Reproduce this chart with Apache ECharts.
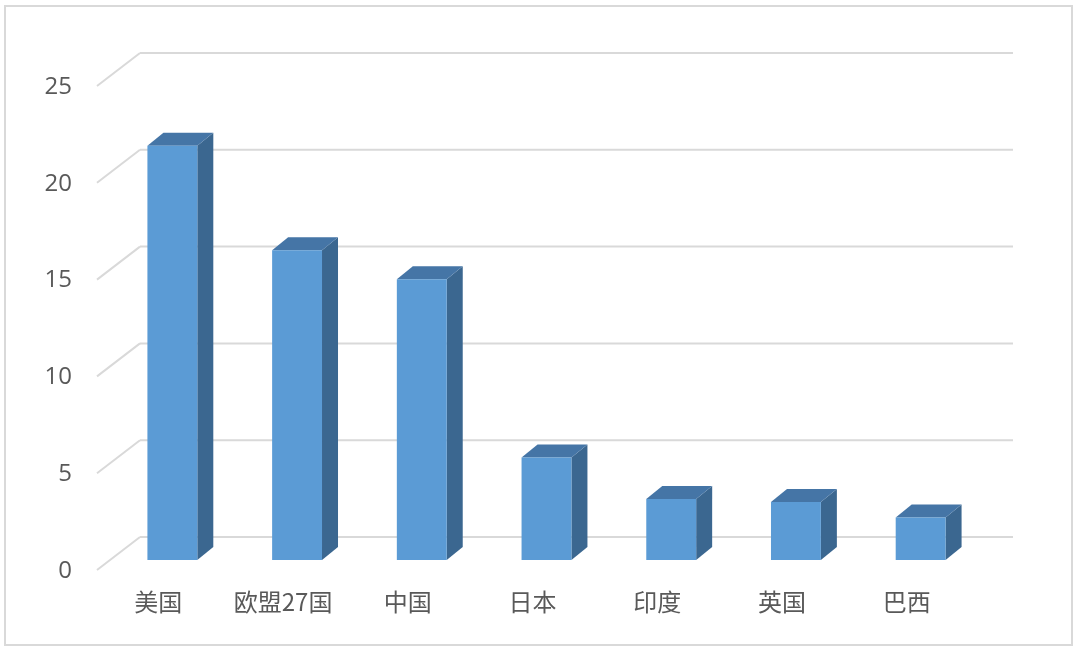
<!DOCTYPE html>
<html>
<head>
<meta charset="utf-8">
<script src="https://cdn.jsdelivr.net/npm/echarts@6/dist/echarts.min.js"></script>
<style>
	html, body { margin: 0; padding: 0; background: #fff; }
	#chartBox { width: 1080px; height: 654px; }
</style>
</head>
<body>
<div id="chartBox"></div>
<script>
// 数据
var countries = ['美国', '欧盟27国', '中国', '日本', '印度', '英国', '巴西'];
var values = [21.4, 16.0, 14.5, 5.3, 3.15, 3.0, 2.2];
var yTicks = [0, 5, 10, 15, 20, 25];

window.addEventListener('load', function() {
	var myChart = echarts.init(document.getElementById('chartBox'));

	// 立体效果的偏移
	var depthX = 16, depthY = -13;   // 柱子侧面
	var wallX = 30, wallY = -23;     // 后墙
	var frontX = -13, frontY = 10;   // 前沿

	var barData = values.map(function(v, i) { return [i, v]; });
	var gridData = yTicks.map(function(v) { return [0, v]; });

	var option = {
		animation: false,
		grid: {
			left: 110,
			right: 97,
			top: 76,
			bottom: 94
		},
		graphic: [{
			type: 'rect',
			shape: { x: 5, y: 6, width: 1067, height: 639 },
			style: { fill: 'none', stroke: '#d9d9d9', lineWidth: 2 },
			z: 0
		}],
		xAxis: {
			type: 'category',
			data: countries,
			axisLine: { show: false },
			axisTick: { show: false },
			axisLabel: {
				interval: 0,
				margin: 30,
				fontSize: 24,
				color: '#595959',
				fontFamily: 'Noto Sans CJK SC',
				padding: [0, 28, 0, 0]
			}
		},
		yAxis: {
			type: 'value',
			min: 0,
			max: 25,
			interval: 5,
			splitLine: { show: false },
			axisLine: { show: false },
			axisTick: { show: false },
			axisLabel: {
				margin: 38,
				fontSize: 24,
				color: '#595959',
				fontFamily: 'Open Sans',
				verticalAlign: 'top',
				lineHeight: 22
			}
		},
		series: [{
			// 网格线（后墙 + 左侧斜线）
			type: 'custom',
			z: 1,
			silent: true,
			data: gridData,
			renderItem: function(params, api) {
				var cs = params.coordSys;
				var y = api.coord([0, api.value(1)])[1];
				return {
					type: 'group',
					children: [{
						type: 'line',
						shape: { x1: cs.x + wallX, y1: y + wallY, x2: cs.x + cs.width + wallX, y2: y + wallY },
						style: { stroke: '#d9d9d9', lineWidth: 2 }
					}, {
						type: 'line',
						shape: { x1: cs.x + frontX, y1: y + frontY, x2: cs.x + wallX, y2: y + wallY },
						style: { stroke: '#d9d9d9', lineWidth: 2 }
					}]
				};
			}
		}, {
			// 立体柱子
			type: 'custom',
			z: 2,
			data: barData,
			encode: { x: 0, y: 1 },
			renderItem: function(params, api) {
				var top = api.coord([api.value(0), api.value(1)]);
				var base = api.coord([api.value(0), 0]);
				var w = api.size([1, 0])[0] * 0.4;
				var x0 = top[0] - w / 2;
				var x1 = x0 + w;
				return {
					type: 'group',
					children: [{
						type: 'polygon',
						shape: { points: [[x1, top[1]], [x1 + depthX, top[1] + depthY], [x1 + depthX, base[1] + depthY], [x1, base[1]]] },
						style: { fill: '#3b6790' }
					}, {
						type: 'polygon',
						shape: { points: [[x0, top[1]], [x1, top[1]], [x1 + depthX, top[1] + depthY], [x0 + depthX, top[1] + depthY]] },
						style: { fill: '#4575a6' }
					}, {
						type: 'rect',
						shape: { x: x0, y: top[1], width: w, height: base[1] - top[1] },
						style: { fill: '#5b9bd5' }
					}]
				};
			}
		}]
	};
	myChart.setOption(option);
});
</script>
</body>
</html>
